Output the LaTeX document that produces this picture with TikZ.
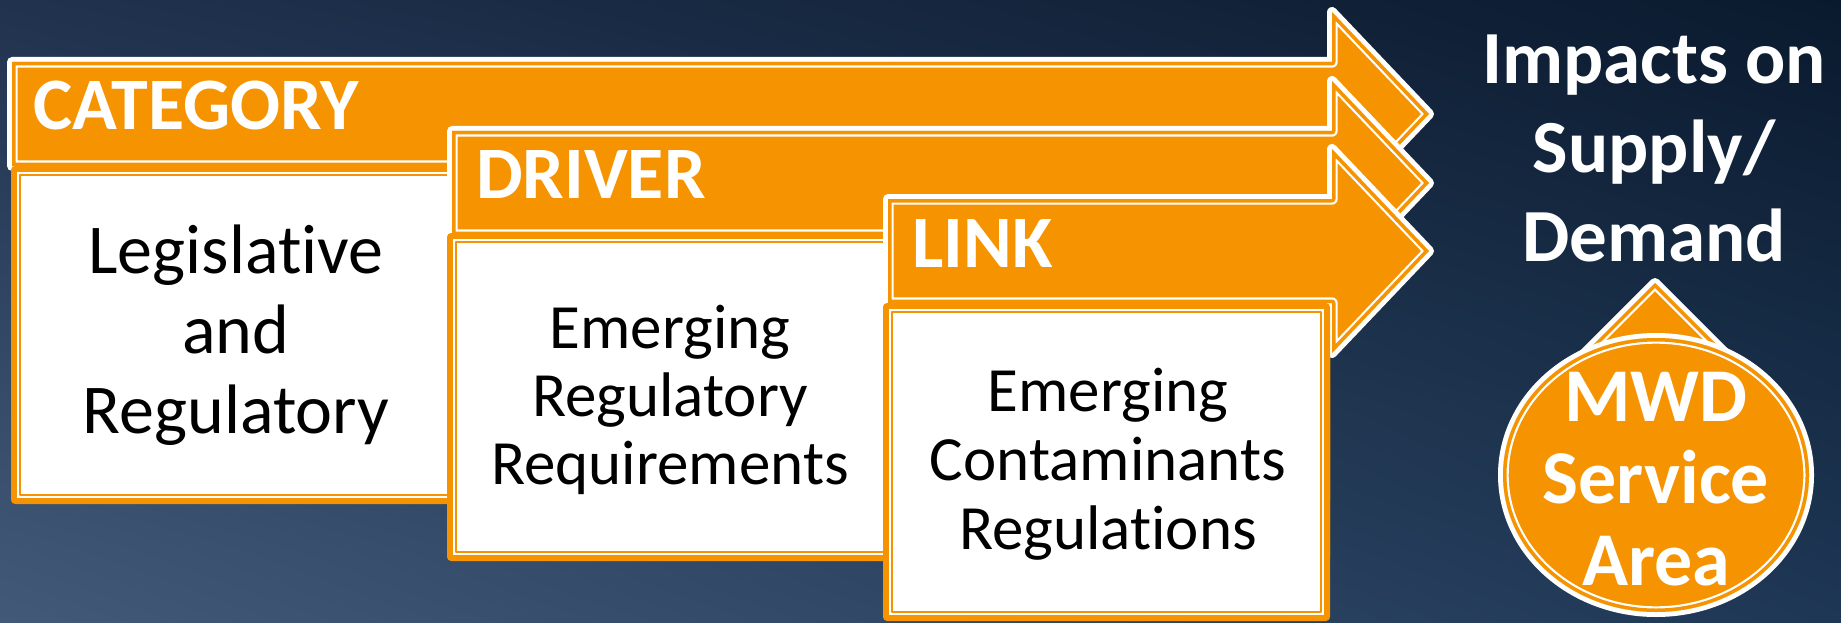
\documentclass[tikz,border=0pt]{standalone}
\usepackage{fontspec}
\usetikzlibrary{shadings}
\setmainfont{Carlito}[Ligatures={NoCommon}]
\definecolor{flowOrange}{RGB}{245,147,0}
\definecolor{bgUL}{RGB}{32,50,78}
\definecolor{bgUR}{RGB}{10,26,46}
\definecolor{bgLL}{RGB}{66,90,120}
\definecolor{bgLR}{RGB}{30,55,85}

% outline of one chevron band: #1 = left edge, #2 = centre line
\newcommand\bandoutline[2]{(#1,#2-52) -- (1332,#2-52) -- (1332,#2-102) -- (1429,#2) -- (1332,#2+102) -- (1332,#2+52) -- (#1,#2+52) -- cycle}

% chevron band: white rim, orange body, thin white inner line
\newcommand\drawband[2]{%
  \draw[rimwhite] \bandoutline{#1}{#2};
  \fill[flowOrange] \bandoutline{#1}{#2};
  \begin{scope}
    \clip \bandoutline{#1}{#2};
    \draw[white, line width=11.4] \bandoutline{#1}{#2};
    \draw[flowOrange, line width=7] \bandoutline{#1}{#2};
  \end{scope}}

% white panel with orange frame and thin orange inner line
\newcommand\drawpanel[4]{%
  \fill[flowOrange, rounded corners=4] (#1,#2) rectangle (#3,#4);
  \fill[white] (#1+6,#2+6) rectangle (#3-6,#4-6);
  \draw[flowOrange, line width=1.6] (#1+8.8,#2+8.8) rectangle (#3-8.8,#4-8.8);}

\tikzset{
  rimwhite/.style={draw=white, line width=10},
  heading/.style={font=\bfseries\fontsize{74}{88}\selectfont, text=white, inner sep=0pt, anchor=base west},
  bodytext/.style={align=center, inner sep=0pt, text=black},
  lighttext/.style={align=center, inner sep=0pt, text=white},
}

\begin{document}
\begin{tikzpicture}[x=1pt, y=-1pt, line join=round]
\useasboundingbox (0,0) rectangle (1841,623);
\shade[upper left=bgUL, upper right=bgUR, lower left=bgLL, lower right=bgLR] (0,0) rectangle (1841,623);

% category level
\drawband{12}{114}
\drawpanel{11}{166}{1330}{504}
\node[heading] (cat) at (33,130) {CATEGORY};

% driver level
\drawband{452}{183}
\drawpanel{447}{233}{1330}{561}
\node[heading] (drv) at (476,198) {DRIVER};

% link level
\drawband{888}{251}
\drawpanel{883}{303}{1330}{621}
\node[heading] (lnk) at (912,267) {LINK};

\node[bodytext, font=\fontsize{70}{80}\selectfont] (catbody) at (236,335) {Legislative\\and\\Regulatory};
\node[bodytext, font=\fontsize{63}{68}\selectfont] (drvbody) at (670,400) {Emerging\\Regulatory\\Requirements};
\node[bodytext, font=\fontsize{63}{69}\selectfont] (lnkbody) at (1108,464) {Emerging\\Contaminants\\Regulations};

% outcome
\node[lighttext, font=\bfseries\fontsize{75}{89}\selectfont] (impacts) at (1654,148) {Impacts on\\Supply/\\Demand};

% service-area drop: pointed cap under a round body
\draw[rimwhite] (1655,283) -- (1767,395) -- (1543,395) -- cycle;
\fill[flowOrange] (1655,283) -- (1767,395) -- (1543,395) -- cycle;
\begin{scope}
  \clip (1655,283) -- (1767,395) -- (1543,395) -- cycle;
  \draw[white, line width=11.4] (1655,283) -- (1767,395) -- (1543,395) -- cycle;
  \draw[flowOrange, line width=7] (1655,283) -- (1767,395) -- (1543,395) -- cycle;
\end{scope}
\draw[rimwhite] (1656,475) ellipse [x radius=153pt, y radius=137pt];
\fill[flowOrange] (1656,475) ellipse [x radius=153pt, y radius=137pt];
\begin{scope}
  \clip (1656,475) ellipse [x radius=153pt, y radius=137pt];
  \draw[white, line width=11.4] (1656,475) ellipse [x radius=153pt, y radius=137pt];
  \draw[flowOrange, line width=7] (1656,475) ellipse [x radius=153pt, y radius=137pt];
\end{scope}
\node[lighttext, font=\bfseries\fontsize{76}{82}\selectfont] (mwd) at (1656,479) {MWD\\Service\\Area};
\end{tikzpicture}
\end{document}
